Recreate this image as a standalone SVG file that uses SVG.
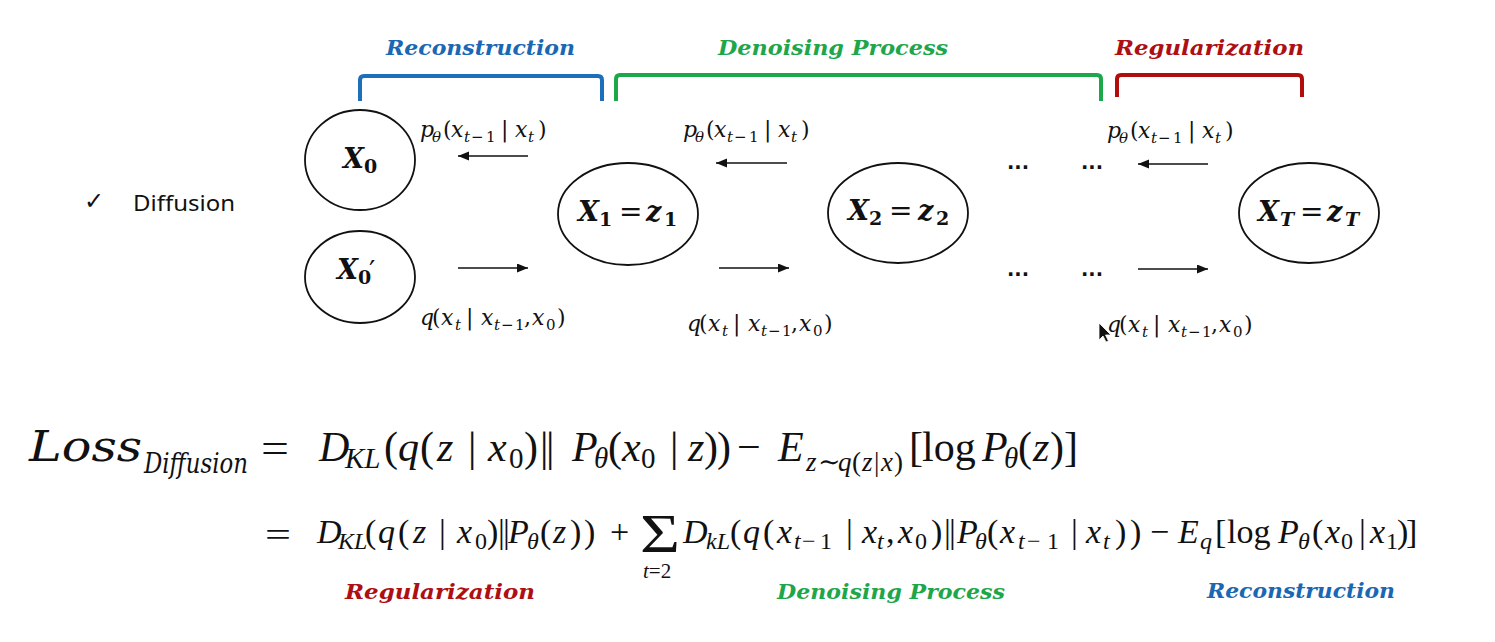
<svg xmlns="http://www.w3.org/2000/svg" width="1495" height="642" viewBox="0 0 1495 642">
<style>
 .node{fill:#fff;stroke:#111;stroke-width:1.8}
 .arr{stroke:#111;stroke-width:1.6;fill:none;marker-end:url(#ah)}
 .nl{font-family:"DejaVu Serif",serif;font-weight:bold;font-style:italic;font-size:27px;fill:#111}
 .nl .d{font-style:normal;font-size:19px}
 .nl .t{font-size:19px}
 .nl .eqs{font-style:normal;font-weight:normal;font-size:28px}
 .lb{font-family:"DejaVu Serif",serif;font-style:italic;font-size:22px;fill:#111}
 .lb .u{font-style:normal}
 .lb .s{font-size:15px}
 .hd{font-family:"DejaVu Serif",serif;font-weight:bold;font-style:italic;font-size:21px}
 .blue{fill:#1a67b3}
 .green{fill:#1ea64b}
 .red{fill:#ad0f12}
 .br{fill:none;stroke-width:4;stroke-linecap:butt}
 .eq{font-family:"Liberation Serif","Times New Roman",serif;fill:#111}
 .e1{font-size:42px}
 .e2{font-size:34px}
 .i{font-style:italic}
 .s1{font-size:29px}
 .s1b{font-size:27px}
 .s2{font-size:24px}
 .tl{font-family:"DejaVu Serif",serif;font-style:normal}
 .ld{font-family:"DejaVu Serif",serif;font-style:italic;fill:#111}
 .dots{font-family:"DejaVu Sans",sans-serif;font-weight:bold;font-size:20px;fill:#111}
</style>
<defs>
 <marker id="ah" markerUnits="userSpaceOnUse" markerWidth="12" markerHeight="10" refX="11" refY="4.5" orient="auto">
  <path d="M0,0 L11,4.5 L0,9 z" fill="#111"/>
 </marker>
 <g id="lp">
  <text class="lb"><tspan x="0" y="0">p</tspan><tspan class="s" x="12" y="5">θ</tspan><tspan class="u" x="23" y="0">(</tspan><tspan x="31" y="0">x</tspan><tspan class="s" x="44" y="5">t</tspan><tspan class="s u" x="51" y="5">−</tspan><tspan class="s u" x="66" y="5">1</tspan><tspan class="u" x="81" y="0">|</tspan><tspan x="95" y="0">x</tspan><tspan class="s" x="108" y="5">t</tspan><tspan class="u" x="118" y="0">)</tspan></text>
 </g>
 <g id="lq">
  <text class="lb"><tspan x="0" y="0">q</tspan><tspan class="u" x="12" y="0">(</tspan><tspan x="21" y="0">x</tspan><tspan class="s" x="35" y="5">t</tspan><tspan class="u" x="46" y="0">|</tspan><tspan x="61" y="0">x</tspan><tspan class="s" x="74" y="5">t</tspan><tspan class="s u" x="81" y="5">−</tspan><tspan class="s u" x="95" y="5">1</tspan><tspan class="u" x="104" y="0">,</tspan><tspan x="112" y="0">x</tspan><tspan class="s u" x="126" y="5">0</tspan><tspan class="u" x="137" y="0">)</tspan></text>
 </g>
</defs>
<rect width="1495" height="642" fill="#fff"/>

<!-- section headers -->
<g id="hdr-reconstruction">
 <path class="br" stroke="#1e6fba" d="M360,101 V80 Q360,76 364,76 H598 Q602,76 602,80 V101"/>
 <text class="hd blue" x="386" y="55" textLength="189" lengthAdjust="spacingAndGlyphs">Reconstruction</text>
</g>
<g id="hdr-denoising">
 <path class="br" stroke="#1ca84a" d="M616,101 V79 Q616,75 620,75 H1097 Q1101,75 1101,79 V101"/>
 <text class="hd green" x="718" y="55" textLength="230" lengthAdjust="spacingAndGlyphs">Denoising Process</text>
</g>
<g id="hdr-regularization">
 <path class="br" stroke="#b00d0d" d="M1117,97 V79 Q1117,75 1121,75 H1298 Q1302,75 1302,79 V97"/>
 <text class="hd red" x="1115" y="55" textLength="189" lengthAdjust="spacingAndGlyphs">Regularization</text>
</g>

<!-- bullet -->
<g id="bullet">
 <text x="84" y="209" style="font-family:'DejaVu Sans',sans-serif;font-size:24px;fill:#111">✓</text>
 <text x="133" y="211" textLength="102" lengthAdjust="spacingAndGlyphs" style="font-family:'Noto Sans',sans-serif;font-size:22px;fill:#111">Diffusion</text>
</g>

<!-- nodes -->
<g id="node-x0">
 <ellipse class="node" cx="360" cy="160" rx="55" ry="50"/>
 <text class="nl"><tspan x="343" y="168">X</tspan><tspan class="d" x="364" y="173">0</tspan></text>
</g>
<g id="node-x0p">
 <ellipse class="node" cx="360" cy="277" rx="55" ry="46"/>
 <text class="nl"><tspan x="337" y="279">X</tspan><tspan class="d" x="358" y="284">0</tspan><tspan class="eqs" x="369" y="281" font-size="34">′</tspan></text>
</g>
<g id="node-x1">
 <ellipse class="node" cx="628" cy="214" rx="70" ry="51"/>
 <text class="nl"><tspan x="578" y="221">X</tspan><tspan class="d" x="599" y="226">1</tspan><tspan class="eqs" x="619" y="221">=</tspan><tspan x="646" y="221">z</tspan><tspan class="d" x="664" y="226">1</tspan></text>
</g>
<g id="node-x2">
 <ellipse class="node" cx="898" cy="213" rx="70" ry="50"/>
 <text class="nl"><tspan x="848" y="220">X</tspan><tspan class="d" x="869" y="225">2</tspan><tspan class="eqs" x="889" y="220">=</tspan><tspan x="918" y="220">z</tspan><tspan class="d" x="936" y="225">2</tspan></text>
</g>
<g id="node-xt">
 <ellipse class="node" cx="1309" cy="213" rx="70" ry="50"/>
 <text class="nl"><tspan x="1258" y="221">X</tspan><tspan class="t" x="1280" y="226">T</tspan><tspan class="eqs" x="1300" y="221">=</tspan><tspan x="1327" y="221">z</tspan><tspan class="t" x="1345" y="226">T</tspan></text>
</g>

<!-- connectors -->
<g id="connectors">
 <line class="arr" x1="528" y1="156" x2="458" y2="156"/>
 <line class="arr" x1="458" y1="268" x2="528" y2="268"/>
 <line class="arr" x1="787" y1="163" x2="716" y2="163"/>
 <line class="arr" x1="719" y1="268" x2="789" y2="268"/>
 <line class="arr" x1="1208" y1="164" x2="1138" y2="164"/>
 <line class="arr" x1="1138" y1="269" x2="1208" y2="269"/>
 <use href="#lp" x="420" y="137"/>
 <use href="#lp" x="683" y="137"/>
 <use href="#lp" x="1107" y="138"/>
 <use href="#lq" x="420" y="325"/>
 <use href="#lq" x="687" y="331"/>
 <use href="#lq" x="1107" y="332"/>
 <text class="dots" x="1007" y="169" textLength="22" lengthAdjust="spacingAndGlyphs">...</text>
 <text class="dots" x="1081" y="169" textLength="22" lengthAdjust="spacingAndGlyphs">...</text>
 <text class="dots" x="1007" y="276" textLength="22" lengthAdjust="spacingAndGlyphs">...</text>
 <text class="dots" x="1081" y="276" textLength="22" lengthAdjust="spacingAndGlyphs">...</text>
</g>

<!-- mouse cursor -->
<path d="M1099,323 L1099,340 L1103,336 L1106,342 L1108.5,341 L1105.5,335 L1111,335 Z" fill="#111" stroke="#fff" stroke-width="0.8"/>

<!-- equation line 1 -->
<g id="eq1">
 <text class="ld" x="29" y="461" font-size="42" textLength="113" lengthAdjust="spacingAndGlyphs">Loss</text>
 <text class="ld" x="144" y="473" font-size="28" textLength="104" lengthAdjust="spacingAndGlyphs">Diffusion</text>
 <text class="eq e1" x="261" y="462" textLength="28" lengthAdjust="spacingAndGlyphs">=</text>
 <text class="eq e1"><tspan class="i" x="319" y="461">D</tspan><tspan class="i s1" x="345" y="468">KL</tspan><tspan x="384" y="461">(</tspan><tspan class="i" x="398" y="461">q</tspan><tspan x="420" y="461">(</tspan><tspan class="i" x="437" y="461">z</tspan><tspan x="468" y="461">|</tspan><tspan class="i" x="488" y="461">x</tspan><tspan class="s1" x="509" y="468">0</tspan><tspan x="524" y="461">)</tspan><tspan x="540" y="461">|</tspan><tspan x="546" y="461">|</tspan><tspan class="i" x="572" y="461">P</tspan><tspan class="i s1" x="594" y="468">θ</tspan><tspan x="608" y="461">(</tspan><tspan class="i" x="622" y="461">x</tspan><tspan class="s1" x="641" y="468">0</tspan><tspan x="670" y="461">|</tspan><tspan class="i" x="688" y="461">z</tspan><tspan x="704" y="461">)</tspan><tspan x="717" y="461">)</tspan><tspan x="737" y="461">−</tspan><tspan class="i" x="778" y="461">E</tspan><tspan class="i s1b" x="806" y="471">z</tspan><tspan class="s1b tl" x="818" y="471" font-size="22">∼</tspan><tspan class="i s1b" x="838" y="471">q</tspan><tspan class="s1b" x="852" y="471">(</tspan><tspan class="i s1b" x="862" y="471">z</tspan><tspan class="s1b" x="874" y="471">|</tspan><tspan class="i s1b" x="881" y="471">x</tspan><tspan class="s1b" x="894" y="471">)</tspan><tspan x="909" y="461">[</tspan><tspan x="922" y="461">log</tspan><tspan class="i" x="982" y="461">P</tspan><tspan class="i s1" x="1004" y="468">θ</tspan><tspan x="1018" y="461">(</tspan><tspan class="i" x="1033" y="461">z</tspan><tspan x="1050" y="461">)</tspan><tspan x="1064" y="461">]</tspan></text>
</g>

<!-- equation line 2 -->
<g id="eq2">
 <text class="eq e2" x="265" y="546" textLength="26" lengthAdjust="spacingAndGlyphs">=</text>
 <text class="eq e2"><tspan class="i" x="317" y="543">D</tspan><tspan class="i s2" x="338" y="549">KL</tspan><tspan x="365" y="543">(</tspan><tspan class="i" x="378" y="543">q</tspan><tspan x="398" y="543">(</tspan><tspan class="i" x="413" y="543">z</tspan><tspan x="439" y="543">|</tspan><tspan class="i" x="457" y="543">x</tspan><tspan class="s2" x="475" y="549">0</tspan><tspan x="487" y="543">)</tspan><tspan x="498" y="543">|</tspan><tspan x="503" y="543">|</tspan><tspan class="i" x="508" y="543">P</tspan><tspan class="i s2" x="527" y="549">θ</tspan><tspan x="540" y="543">(</tspan><tspan class="i" x="553" y="543">z</tspan><tspan x="570" y="543">)</tspan><tspan x="584" y="543">)</tspan><tspan x="610" y="543">+</tspan><tspan class="i" x="683" y="543">D</tspan><tspan class="i s2" x="706" y="549">kL</tspan><tspan x="730" y="543">(</tspan><tspan class="i" x="743" y="543">q</tspan><tspan x="763" y="543">(</tspan><tspan class="i" x="777" y="543">x</tspan><tspan class="i s2" x="794" y="549">t</tspan><tspan class="s2" x="802" y="549">−</tspan><tspan class="s2" x="820" y="549">1</tspan><tspan x="846" y="543">|</tspan><tspan class="i" x="862" y="543">x</tspan><tspan class="i s2" x="877" y="549">t</tspan><tspan x="886" y="543">,</tspan><tspan class="i" x="898" y="543">x</tspan><tspan class="s2" x="915" y="549">0</tspan><tspan x="931" y="543">)</tspan><tspan x="944" y="543">|</tspan><tspan x="949" y="543">|</tspan><tspan class="i" x="957" y="543">P</tspan><tspan class="i s2" x="975" y="549">θ</tspan><tspan x="987" y="543">(</tspan><tspan class="i" x="1000" y="543">x</tspan><tspan class="i s2" x="1018" y="549">t</tspan><tspan class="s2" x="1027" y="549">−</tspan><tspan class="s2" x="1047" y="549">1</tspan><tspan x="1071" y="543">|</tspan><tspan class="i" x="1086" y="543">x</tspan><tspan class="i s2" x="1103" y="549">t</tspan><tspan x="1115" y="543">)</tspan><tspan x="1130" y="543">)</tspan><tspan x="1150" y="543">−</tspan><tspan class="i" x="1178" y="543">E</tspan><tspan class="i s2" x="1200" y="549">q</tspan><tspan x="1215" y="543">[</tspan><tspan x="1227" y="543">log</tspan><tspan class="i" x="1278" y="543">P</tspan><tspan class="i s2" x="1298" y="549">θ</tspan><tspan x="1312" y="543">(</tspan><tspan class="i" x="1325" y="543">x</tspan><tspan class="s2" x="1341" y="549">0</tspan><tspan x="1359" y="543">|</tspan><tspan class="i" x="1370" y="543">x</tspan><tspan class="s2" x="1386" y="549">1</tspan><tspan x="1397" y="543">)</tspan><tspan x="1406" y="543">]</tspan></text>
 <text class="eq" x="640" y="552" font-size="54" textLength="40" lengthAdjust="spacingAndGlyphs">Σ</text>
 <text class="eq" font-size="21" x="643" y="578"><tspan class="i">t</tspan>=2</text>
</g>

<!-- bottom labels -->
<g id="lbl-bottom">
 <text class="hd red" x="345" y="599" textLength="190" lengthAdjust="spacingAndGlyphs">Regularization</text>
 <text class="hd green" x="777" y="599" textLength="228" lengthAdjust="spacingAndGlyphs">Denoising Process</text>
 <text class="hd blue" x="1207" y="598" textLength="188" lengthAdjust="spacingAndGlyphs">Reconstruction</text>
</g>
</svg>
